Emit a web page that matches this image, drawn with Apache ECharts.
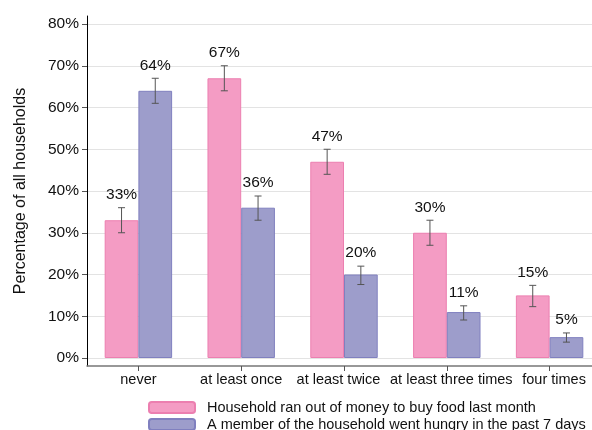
<!DOCTYPE html>
<html>
<head>
<meta charset="utf-8">
<script src="https://cdn.jsdelivr.net/npm/echarts@6/dist/echarts.min.js"></script>
<style>
  html, body { margin: 0; padding: 0; background: #fff; }
  #chart { width: 592px; height: 430px; }
</style>
</head>
<body>
<div id="chart"></div>
<script>
// Food insecurity frequency, share of households (%)
const categories = ['never', 'at least once', 'at least twice', 'at least three times', 'four times'];
const ranOutOfMoney = [33, 67, 47, 30, 15];
const wentHungry = [64, 36, 20, 11, 5];
// 95% confidence bounds
const ranOutLow = [30, 64, 44, 27, 12.3];
const ranOutHigh = [36, 70, 50, 33, 17.4];
const hungryLow = [61, 33, 17.6, 9.1, 3.8];
const hungryHigh = [67, 38.8, 22, 12.5, 6];

const seriesNames = [
  'Household ran out of money to buy food last month',
  'A member of the household went hungry in the past 7 days'
];

const FONT = "'Liberation Sans', Arial, Helvetica, sans-serif";
const BAR_FRAC = 0.328;

// Nudge long category labels apart so neighbours don't collide
const labelStyleKey = ['c', 'c', 'l', 'r', 'r'];

function errorSeries(offset, low, high, vals) {
  return {
    type: 'custom',
    xAxisIndex: 0,
    yAxisIndex: 0,
    z: 5,
    silent: true,
    data: categories.map((c, i) => [i, low[i], high[i], vals[i]]),
    renderItem(params, api) {
      const i = api.value(0);
      const lo = api.coord([i, api.value(1)]);
      const hi = api.coord([i, api.value(2)]);
      const band = api.size([1, 0])[0];
      const x = lo[0] + offset * band;
      const half = 3.5;
      const stroke = { stroke: '#555', lineWidth: 1 };
      return {
        type: 'group',
        children: [
          { type: 'line', shape: { x1: x, y1: lo[1], x2: x, y2: hi[1] }, style: stroke },
          { type: 'line', shape: { x1: x - half, y1: hi[1], x2: x + half, y2: hi[1] }, style: stroke },
          { type: 'line', shape: { x1: x - half, y1: lo[1], x2: x + half, y2: lo[1] }, style: stroke },
          {
            type: 'text',
            style: {
              text: api.value(3) + '%',
              x: x,
              y: hi[1] - 5,
              align: 'center',
              verticalAlign: 'bottom',
              fontSize: 15.5,
              fontFamily: FONT,
              fill: '#111'
            }
          }
        ]
      };
    }
  };
}

const catLabelText = { color: '#111', fontSize: 14.5, fontFamily: FONT };

const chart = echarts.init(document.getElementById('chart'), null, { renderer: 'canvas' });
chart.setOption({
  animation: false,
  backgroundColor: '#fff',
  textStyle: { fontFamily: FONT },
  grid: [
    { left: 87, width: 514, top: 24, bottom: 72, outerBoundsMode: 'none', containLabel: false },
    { left: 87, width: 514, top: 16, bottom: 64, outerBoundsMode: 'none', containLabel: false }
  ],
  legend: {
    data: seriesNames,
    orient: 'vertical',
    left: 148,
    top: 400,
    height: 80,
    padding: 0,
    itemWidth: 46,
    itemHeight: 11,
    itemGap: 2,
    textStyle: { fontSize: 14.5, color: '#111', fontFamily: FONT, padding: [0, 0, 0, 7] }
  },
  xAxis: [
    {
      gridIndex: 0,
      type: 'category',
      data: categories,
      show: false
    },
    {
      gridIndex: 1,
      type: 'category',
      data: categories,
      axisLine: { show: true, lineStyle: { color: '#777', width: 1.5 } },
      axisTick: { show: true, alignWithLabel: true, length: 5, lineStyle: { color: '#555' } },
      axisLabel: {
        color: '#111', fontSize: 14.5, fontFamily: FONT, margin: 6, interval: 0, hideOverlap: false,
        formatter(value, idx) { return '{' + labelStyleKey[idx] + '|' + value + '}'; },
        rich: {
          c: Object.assign({}, catLabelText),
          l: Object.assign({ padding: [0, 11, 0, 0] }, catLabelText),
          r: Object.assign({ padding: [0, 0, 0, 9] }, catLabelText)
        }
      }
    }
  ],
  yAxis: [
    {
      gridIndex: 0,
      type: 'value',
      min: 0,
      max: 80,
      interval: 10,
      axisLine: { show: false },
      axisTick: { show: true, length: 5, lineStyle: { color: '#555' } },
      axisLabel: { color: '#111', fontSize: 15.5, fontFamily: FONT, margin: 8, formatter: '{value}%' },
      splitLine: { show: true, lineStyle: { color: '#e3e3e3', width: 1 } }
    },
    {
      gridIndex: 1,
      type: 'value',
      min: 0,
      max: 1,
      axisLine: { show: true, lineStyle: { color: '#000', width: 1 } },
      axisTick: { show: false },
      axisLabel: { show: false },
      splitLine: { show: false },
      name: 'Percentage of all households',
      nameLocation: 'middle',
      nameGap: 58,
      nameTextStyle: { color: '#111', fontSize: 16, fontFamily: FONT }
    }
  ],
  series: [
    {
      name: seriesNames[0],
      type: 'bar',
      xAxisIndex: 0,
      yAxisIndex: 0,
      data: ranOutOfMoney,
      barWidth: (BAR_FRAC * 100) + '%',
      barGap: '0%',
      itemStyle: { color: '#f49cc4', borderColor: '#ec7fb0', borderWidth: 1 }
    },
    {
      name: seriesNames[1],
      type: 'bar',
      xAxisIndex: 0,
      yAxisIndex: 0,
      data: wentHungry,
      barWidth: (BAR_FRAC * 100) + '%',
      barGap: '0%',
      itemStyle: { color: '#9d9dcb', borderColor: '#8080bf', borderWidth: 1 }
    },
    errorSeries(-BAR_FRAC / 2, ranOutLow, ranOutHigh, ranOutOfMoney),
    errorSeries(BAR_FRAC / 2, hungryLow, hungryHigh, wentHungry)
  ]
});
</script>
</body>
</html>
